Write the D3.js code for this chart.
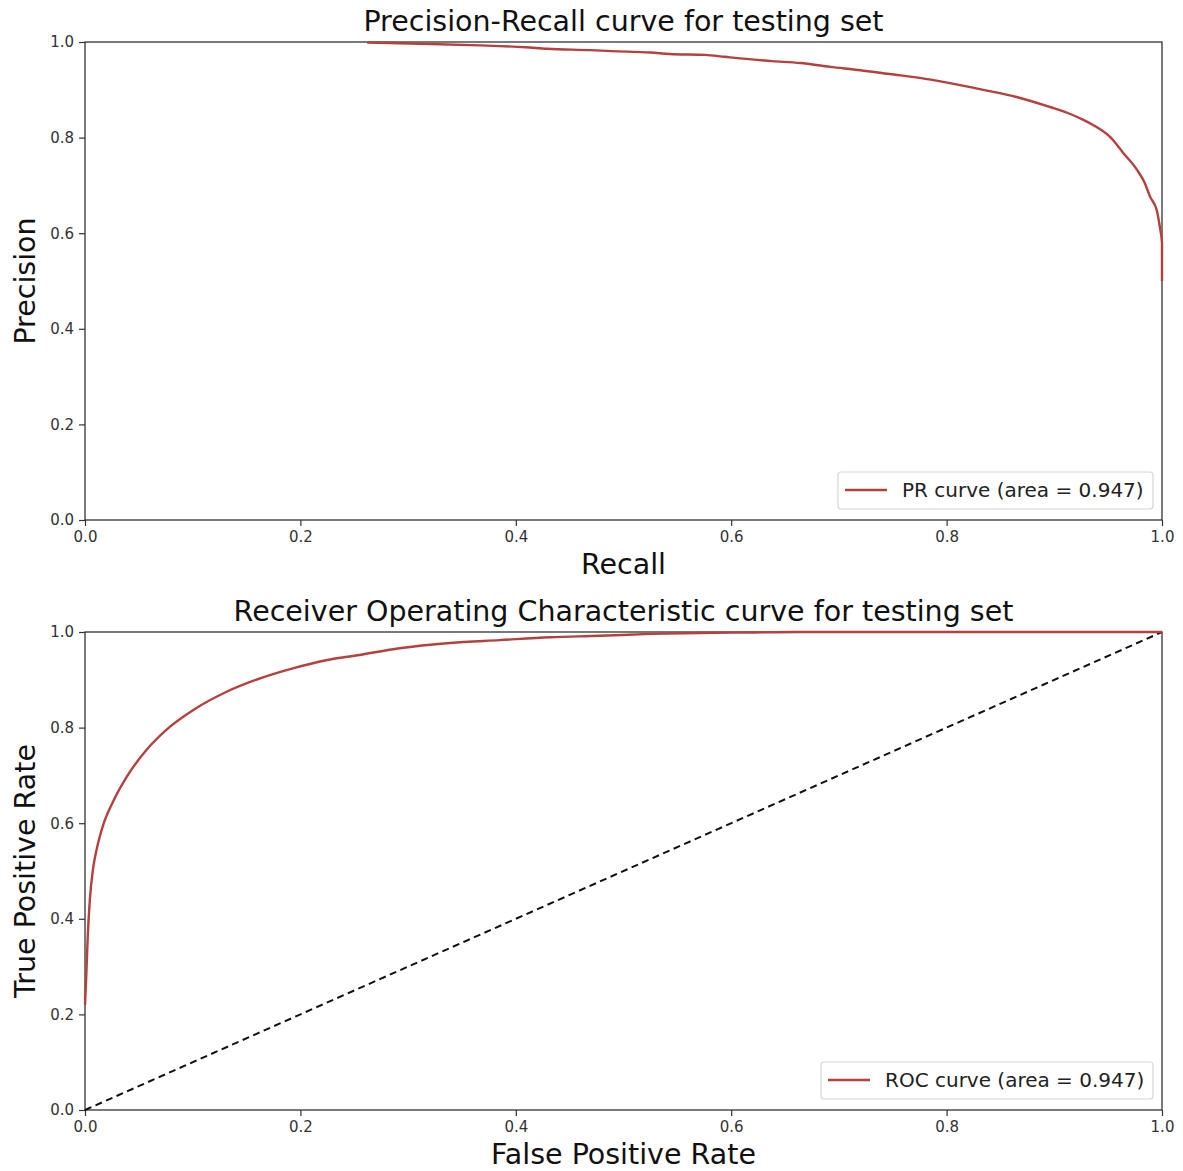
<!DOCTYPE html>
<html><head><meta charset="utf-8">
<script src="https://cdn.jsdelivr.net/npm/d3@7"></script>
<style>
body{margin:0;background:#fff;}
text{font-family:"DejaVu Sans",sans-serif;}
</style></head>
<body><svg id="c" width="1183" height="1171"></svg>
<script>
// PR curve (recall, precision)
const prRecall    = [0.262,0.302,0.367,0.409,0.429,0.469,0.489,0.525,0.543,0.576,0.594,0.638,0.664,0.692,0.720,0.747,0.775,0.803,0.834,0.865,0.896,0.912,0.927,0.940,0.952,0.964,0.977,0.984,0.989,0.995,0.998,1.0,1.0];
const prPrecision = [0.999,0.997,0.993,0.989,0.986,0.983,0.981,0.978,0.975,0.973,0.969,0.960,0.956,0.948,0.941,0.933,0.925,0.914,0.900,0.885,0.864,0.852,0.837,0.821,0.801,0.768,0.732,0.705,0.676,0.649,0.613,0.58,0.50];
// ROC curve (fpr, tpr)
const rocFpr = [0,0.001,0.0025,0.0045,0.0075,0.0108,0.017,0.026,0.0387,0.057,0.079,0.1006,0.1315,0.1625,0.193,0.224,0.255,0.292,0.339,0.385,0.432,0.478,0.525,0.571,0.62,0.66,1.0];
const rocTpr = [0.22,0.27,0.36,0.44,0.505,0.545,0.597,0.645,0.697,0.753,0.802,0.837,0.875,0.903,0.924,0.941,0.952,0.966,0.977,0.983,0.989,0.992,0.996,0.998,0.999,1.0,1.0];
const chanceX = [0,1];
const chanceY = [0,1];
const ticks = [0,0.2,0.4,0.6,0.8,1.0];
const tickLabels = ["0.0","0.2","0.4","0.6","0.8","1.0"];

const svg = d3.select("#c");
const curveColor = "#b5403e";

function panel(top, cfg){
  const L=85, R=1162, T=top, B=top+478;
  const x = d3.scaleLinear().domain([0,1]).range([L,R]);
  const y = d3.scaleLinear().domain([0,1]).range([B,T]);
  const g = svg.append("g");
  const xa = g.append("g").attr("transform",`translate(0,${B})`)
    .call(d3.axisBottom(x).tickValues(ticks).tickFormat((d,i)=>tickLabels[i]).tickSize(6).tickPadding(5));
  const ya = g.append("g").attr("transform",`translate(${L},0)`)
    .call(d3.axisLeft(y).tickValues(ticks).tickFormat((d,i)=>tickLabels[i]).tickSize(6).tickPadding(5));
  [xa,ya].forEach(a=>{
    a.select(".domain").remove();
    a.selectAll("line").attr("stroke","#333").attr("stroke-width",1.2);
    a.selectAll("text").attr("font-size",15).attr("fill","#333").attr("font-family","DejaVu Sans");
  });
  g.append("rect").attr("x",L).attr("y",T).attr("width",R-L).attr("height",B-T)
    .attr("fill","none").attr("stroke","#333").attr("stroke-width",1.3);
  if(cfg.diag){
    g.append("path").datum(chanceX.map((v,i)=>[v,chanceY[i]]))
      .attr("d",d3.line().x(d=>x(d[0])).y(d=>y(d[1])))
      .attr("fill","none").attr("stroke","#111").attr("stroke-width",2).attr("stroke-dasharray","7,4.5");
  }
  g.append("path").datum(cfg.xs.map((v,i)=>[v,cfg.ys[i]]))
    .attr("d",d3.line().x(d=>x(d[0])).y(d=>y(d[1])).curve(cfg.curve))
    .attr("fill","none").attr("stroke",curveColor).attr("stroke-width",2.4);
  const lg = g.append("g");
  lg.append("rect").attr("x",cfg.leg[0]).attr("y",B-48).attr("width",R-9-cfg.leg[0]).attr("height",37)
    .attr("rx",3).attr("fill","#fff").attr("stroke","#d6d6d6").attr("stroke-width",1.2);
  lg.append("line").attr("x1",cfg.leg[0]+7).attr("x2",cfg.leg[0]+49).attr("y1",B-30).attr("y2",B-30)
    .attr("stroke",curveColor).attr("stroke-width",2.4);
  lg.append("text").attr("x",cfg.leg[0]+64).attr("y",B-23).attr("font-size",20).attr("fill","#222").text(cfg.legText);
  g.append("text").attr("x",(L+R)/2).attr("y",T-11).attr("text-anchor","middle").attr("font-size",28.5).attr("fill","#111").text(cfg.title);
  g.append("text").attr("x",(L+R)/2).attr("y",B+54).attr("text-anchor","middle").attr("font-size",28.5).attr("fill","#111").text(cfg.xlab);
  g.append("text").attr("transform",`translate(35,${(T+B)/2}) rotate(-90)`).attr("text-anchor","middle").attr("font-size",28.5).attr("fill","#111").text(cfg.ylab);
}

panel(42,{xs:prRecall, ys:prPrecision, curve:d3.curveMonotoneX, diag:false,
  leg:[838], legText:"PR curve (area = 0.947)",
  title:"Precision-Recall curve for testing set", xlab:"Recall", ylab:"Precision"});
panel(632,{xs:rocFpr, ys:rocTpr, curve:d3.curveMonotoneX, diag:true,
  leg:[821], legText:"ROC curve (area = 0.947)",
  title:"Receiver Operating Characteristic curve for testing set", xlab:"False Positive Rate", ylab:"True Positive Rate"});
</script></body></html>
